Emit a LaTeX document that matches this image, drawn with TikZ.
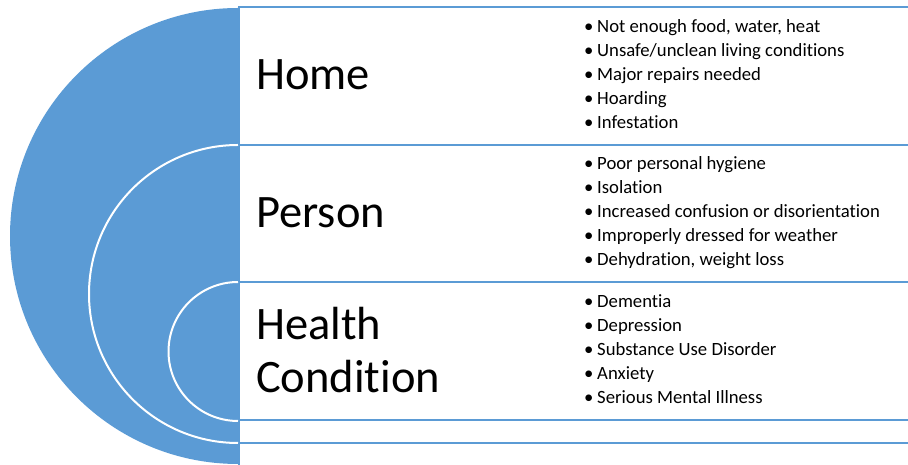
\documentclass[tikz,border=0pt]{standalone}
\usepackage{fontspec}
\setmainfont{Carlito}[Ligatures=NoCommon,Contextuals=NoAlternate]
\definecolor{tblue}{HTML}{5B9BD5}
\begin{document}
\begin{tikzpicture}[x=1pt,y=1pt,
  frame/.style={draw=tblue,line width=2pt},
  arcline/.style={draw=white,line width=2pt},
  biglabel/.style={anchor=base west,inner sep=0pt,font=\fontsize{46.5}{53}\selectfont},
  item/.style={anchor=base west,inner sep=0pt,font=\fontsize{18.7}{24}\selectfont}]
\useasboundingbox (0,0) rectangle (908,465);
\clip (0,0) rectangle (908,465);
% half disc
\fill[tblue] (238,457) arc[start angle=90,end angle=270,radius=228pt];
% boxes
\draw[frame] (239,320) rectangle (930,458);
\draw[frame] (239,183) rectangle (930,320);
\draw[frame] (239,45) rectangle (930,183);
\draw[frame] (239,22) rectangle (930,45);
\draw[frame] (239,-5) -- (239,22);
% white arcs
\draw[arcline] (238,320) arc[start angle=90,end angle=270,radius=149pt];
\draw[arcline] (238,183) arc[start angle=90,end angle=270,radius=69.5pt];
% labels
\node[biglabel] (home) at (256,375) {Home};
\node[biglabel] (person) at (256,237) {Person};
\node[biglabel] (health) at (256,125) {Health};
\node[biglabel] (cond) at (256,72) {Condition};
% lists
\foreach \t [count=\i] in {{Not enough food, water, heat},{Unsafe/unclean living conditions},{Major repairs needed},{Hoarding},{Infestation}}
  \node[item] (h\i) at (584,{432-24*(\i-1)}) {\makebox[13pt][l]{•}\t};
\foreach \t [count=\i] in {{Poor personal hygiene},{Isolation},{Increased confusion or disorientation},{Improperly dressed for weather},{Dehydration, weight loss}}
  \node[item] (p\i) at (584,{295-24*(\i-1)}) {\makebox[13pt][l]{•}\t};
\foreach \t [count=\i] in {{Dementia},{Depression},{Substance Use Disorder},{Anxiety},{Serious Mental Illness}}
  \node[item] (c\i) at (584,{157-24*(\i-1)}) {\makebox[13pt][l]{•}\t};
\end{tikzpicture}
\end{document}
